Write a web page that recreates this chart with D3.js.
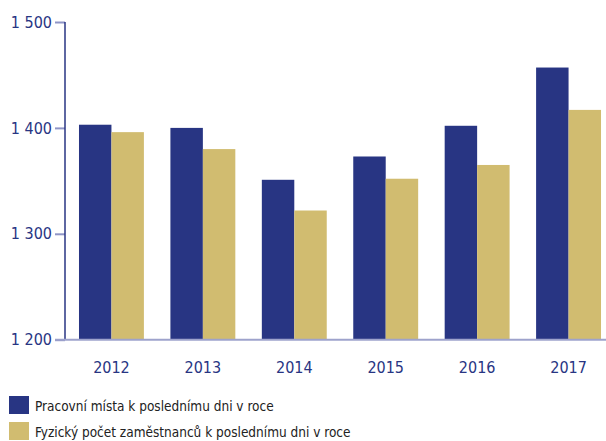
<!DOCTYPE html>
<html><head><meta charset="utf-8">
<script src="https://cdn.jsdelivr.net/npm/d3@7"></script>
<style>
body{margin:0;background:#fff;}
svg text{font-family:"Liberation Sans Narrow","DejaVu Sans Condensed","Liberation Sans",sans-serif;}
</style></head>
<body>
<svg id="c" width="606" height="441"></svg>
<script>
const years = ["2012","2013","2014","2015","2016","2017"];
const pracovniMista = [1403, 1400, 1351, 1373, 1402, 1457];
const fyzickyPocet = [1396, 1380, 1322, 1352, 1365, 1417];
const seriesNames = ["Pracovní místa k poslednímu dni v roce", "Fyzický počet zaměstnanců k poslednímu dni v roce"];
const yTicks = [1200, 1300, 1400, 1500];
const colors = ["#283583", "#d1bc70"];

const svg = d3.select("#c");
const x0 = d3.scaleBand().domain(years).range([65, 615]).paddingInner(0.29).paddingOuter(0.153);
const x1 = d3.scaleBand().domain([0,1]).range([0, x0.bandwidth()]);
const y = d3.scaleLinear().domain([1200, 1500]).range([339.7, 22]);

const data = years.map((yr,i)=>({yr, vals:[pracovniMista[i], fyzickyPocet[i]]}));

// bars
const g = svg.append("g");
g.selectAll("g.grp").data(data).join("g").attr("class","grp")
  .attr("transform", d=>`translate(${x0(d.yr)},0)`)
  .selectAll("rect").data(d=>d.vals.map((v,k)=>({v,k}))).join("rect")
  .attr("x", d=>x1(d.k)).attr("width", x1.bandwidth())
  .attr("y", d=>y(d.v)).attr("height", d=>y(1200)-y(d.v))
  .attr("fill", d=>colors[d.k]);

// y axis
const yAxis = d3.axisLeft(y).tickValues(yTicks).tickSize(10).tickPadding(3)
  .tickFormat(d=>d3.format(",")(d).replace(",", " "));
const ya = svg.append("g").attr("transform","translate(65,0)").call(yAxis);
ya.select(".domain").remove();
ya.selectAll(".tick line").attr("stroke","#8f95c6").attr("stroke-width",2);
ya.selectAll(".tick text").attr("fill","#283583").style("font-size","16px");
svg.append("line").attr("x1",65).attr("x2",65).attr("y1",y(1500)).attr("y2",y(1200))
  .attr("stroke","#283583").attr("stroke-width",1.5);

// x axis
const xAxis = d3.axisBottom(x0).tickSize(0).tickPadding(22);
const xa = svg.append("g").attr("transform",`translate(0,${y(1200)})`).call(xAxis);
xa.select(".domain").remove();
xa.selectAll(".tick text").attr("fill","#283583").style("font-size","16px");
svg.append("line").attr("x1",55).attr("x2",606).attr("y1",y(1200)).attr("y2",y(1200))
  .attr("stroke","#9ea3cc").attr("stroke-width",2);

// legend
const leg = svg.append("g");
seriesNames.forEach((n,i)=>{
  const yy = 396 + i*26;
  leg.append("rect").attr("x",9).attr("y",yy).attr("width",20).attr("height",18).attr("fill",colors[i]);
  leg.append("text").attr("x",35).attr("y",yy+15).text(n).attr("fill","#222").style("font-size","13.5px");
});
</script>
</body></html>
